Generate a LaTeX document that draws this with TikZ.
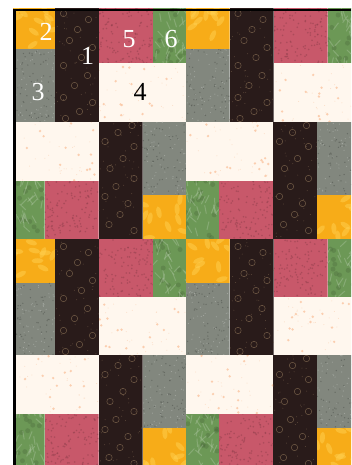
\documentclass[tikz,border=0pt]{standalone}
\usepackage{fontspec}
\setmainfont{Liberation Serif}
\usepackage{xcolor}
\usetikzlibrary{positioning}

\definecolor{fabYellow}{RGB}{247,172,24}
\definecolor{fabSun}{RGB}{255,208,80}
\definecolor{fabGray}{RGB}{130,135,126}
\definecolor{fabBrown}{RGB}{41,27,26}
\definecolor{fabTan}{RGB}{112,90,70}
\definecolor{fabRose}{RGB}{200,88,106}
\definecolor{fabGreen}{RGB}{108,152,86}
\definecolor{fabCream}{RGB}{255,247,238}
\definecolor{fabPeach}{RGB}{250,196,160}

% one quilt block, top left corner at the origin
\newcommand{\quiltunit}{%
  % yellow square
  \begin{scope}
    \clip (0,0) rectangle (43.5,44);
    \fill[fabYellow] (0,0) rectangle (43.5,44);
    \foreach \i in {1,...,10} {
      \pgfmathsetmacro{\px}{rnd*43.5}
      \pgfmathsetmacro{\py}{rnd*44}
      \pgfmathsetmacro{\pa}{rnd*180}
      \fill[fabSun, opacity=0.5, rotate around={\pa:(\px,\py)}] (\px,\py) ellipse (6 and 2.5);
    }
  \end{scope}
  % gray rectangle
  \begin{scope}
    \clip (0,44) rectangle (43.5,116.5);
    \fill[fabGray] (0,44) rectangle (43.5,116.5);
    \foreach \i in {1,...,60} {
      \fill[fabGray!65!black, opacity=0.6] ({rnd*43.5},{44+rnd*72.5}) circle (0.7);
      \fill[fabGray!60!white, opacity=0.6] ({rnd*43.5},{44+rnd*72.5}) circle (0.6);
    }
  \end{scope}
  % brown strip
  \begin{scope}
    \clip (43.5,0) rectangle (87.5,116.5);
    \fill[fabBrown] (43.5,0) rectangle (87.5,116.5);
    \foreach \fx/\fy in {52/8, 77/14, 66/24, 58/35, 81/42, 70/52, 52/60, 76/70,
                         63/80, 52/92, 81/97, 68/106, 54/113}
      \draw[fabTan, line width=0.5pt] (\fx,\fy) circle (3.2);
    \foreach \i in {1,...,40}
      \fill[fabTan, opacity=0.7] ({43.5+rnd*44},{rnd*116.5}) circle (0.5);
  \end{scope}
  % rose square
  \begin{scope}
    \clip (87.5,0) rectangle (141.5,58);
    \fill[fabRose] (87.5,0) rectangle (141.5,58);
    \foreach \i in {1,...,110}
      \fill[fabRose!72!black, opacity=0.5] ({87.5+rnd*54},{rnd*58}) circle (0.9);
  \end{scope}
  % green square
  \begin{scope}
    \clip (141.5,0) rectangle (174.5,58);
    \fill[fabGreen] (141.5,0) rectangle (174.5,58);
    \foreach \i in {1,...,14}
      \fill[fabGreen!70!black, opacity=0.35] ({141.5+rnd*33},{rnd*58}) circle (2.5);
    \foreach \i in {1,...,30} {
      \pgfmathsetmacro{\pa}{40+rnd*100}
      \draw[fabGreen!55!white, line width=1pt, opacity=0.4, line cap=round]
        ({141.5+rnd*33},{rnd*58}) -- ++(\pa:8);
    }
  \end{scope}
  % cream rectangle
  \begin{scope}
    \clip (87.5,58) rectangle (174.5,116.5);
    \fill[fabCream] (87.5,58) rectangle (174.5,116.5);
    \foreach \i in {1,...,16}
      \fill[fabPeach, opacity=0.8] ({87.5+rnd*87},{58+rnd*58.5}) circle (1.3);
    \foreach \i in {1,...,30}
      \fill[fabPeach, opacity=0.5] ({87.5+rnd*87},{58+rnd*58.5}) circle (0.5);
  \end{scope}
}

\begin{document}
\begin{tikzpicture}[x=1pt, y=-1pt,
    patchnum/.style={font=\fontsize{26}{26}\selectfont, text=white, inner sep=0pt}]
  \pgfmathsetseed{17}
  \useasboundingbox (0,0) rectangle (351,465);
  \fill[white] (0,0) rectangle (351,465);
  % the quilt, blocks upright and turned round
  \begin{scope}
    \clip (13,9) rectangle (351,465);
    \foreach \ux in {11.5,186} {
      \foreach \uy in {5.5,238.5} {
        \begin{scope}[shift={(\ux,\uy)}]
          \quiltunit
        \end{scope}
      }
      \foreach \uy in {122,355} {
        \begin{scope}[shift={(\ux+174.5,\uy+116.5)}, rotate=180]
          \quiltunit
        \end{scope}
      }
    }
  \end{scope}
  % frame
  \fill[black] (13,9) rectangle (351,11.3);
  \fill[black] (13,9) rectangle (16.3,465);
  % patch numbers
  \node[patchnum] (numOne) at (87.5,56) {1};
  \node[patchnum] (numTwo) at (46,32) {2};
  \node[patchnum] (numThree) at (38,92) {3};
  \node[patchnum, text=black] (numFour) at (140,92) {4};
  \node[patchnum] (numFive) at (129,39) {5};
  \node[patchnum] (numSix) at (171,39) {6};
\end{tikzpicture}
\end{document}
